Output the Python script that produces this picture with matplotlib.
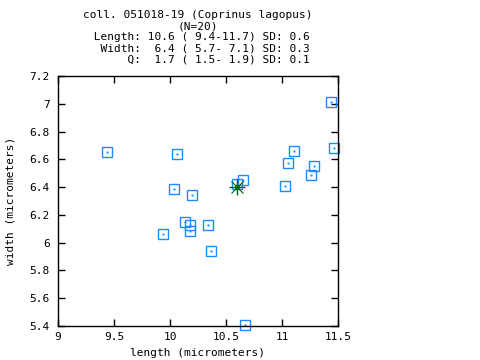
import matplotlib
matplotlib.use('Agg')
import matplotlib.pyplot as plt

length = [9.44, 10.065, 10.038, 10.199, 10.137, 10.181, 10.181, 10.342, 9.94, 10.369,
          10.672, 10.652, 10.601, 11.029, 11.056, 11.11, 11.262, 11.288, 11.44, 11.464]
width = [6.651, 6.638, 6.386, 6.343, 6.149, 6.125, 6.086, 6.125, 6.06, 5.94,
         5.405, 6.449, 6.42, 6.406, 6.571, 6.66, 6.485, 6.55, 7.011, 6.679]
mean_length = 10.6
mean_width = 6.4

xticks = [9, 9.5, 10, 10.5, 11, 11.5]
yticks = [5.4, 5.6, 5.8, 6, 6.2, 6.4, 6.6, 6.8, 7, 7.2]

title = ('coll. 051018-19 (Coprinus lagopus)\n'
         '(N=20)\n'
         ' Length: 10.6 ( 9.4-11.7) SD: 0.6\n'
         '  Width:  6.4 ( 5.7- 7.1) SD: 0.3\n'
         '      Q:  1.7 ( 1.5- 1.9) SD: 0.1')

plt.rcParams['font.family'] = 'DejaVu Sans Mono'
plt.rcParams['font.size'] = 8

fig = plt.figure(figsize=(4.8, 3.6), dpi=100)
ax = fig.add_axes([58 / 480, 1 - 326 / 360, 280 / 480, 250 / 360])

blue = '#1a8cff'
ax.plot(length, width, linestyle='none', marker='s', markersize=7.5,
        markerfacecolor='none', markeredgecolor=blue, markeredgewidth=1.0, clip_on=False)
ax.plot(length, width, linestyle='none', marker='.', markersize=1.2, color=blue)

green = '#006400'
ax.plot(mean_length, mean_width, marker='+', markersize=12, markeredgewidth=1.0, color=green)
ax.plot(mean_length, mean_width, marker='x', markersize=9, markeredgewidth=0.8, color=green)
ax.plot(mean_length, mean_width, marker='o', markersize=2.5, color=green)

ax.set_xlim(9, 11.5)
ax.set_ylim(5.4, 7.2)
ax.set_xticks(xticks)
ax.set_xticklabels(['%g' % v for v in xticks])
ax.set_yticks(yticks)
ax.set_yticklabels(['%g' % v for v in yticks])
ax.tick_params(direction='in', length=5, width=1, top=True, right=True, pad=6, labelsize=8)
ax.tick_params(axis='x', pad=4)
for s in ax.spines.values():
    s.set_linewidth(1.0)

ax.set_xlabel('length (micrometers)', labelpad=5)
ax.set_ylabel('width (micrometers)', labelpad=10)

fig.text(198 / 480, 1 - 10 / 360, title, ha='center', va='top', ma='center', linespacing=1.15)

fig.savefig('out.png', dpi=100)
